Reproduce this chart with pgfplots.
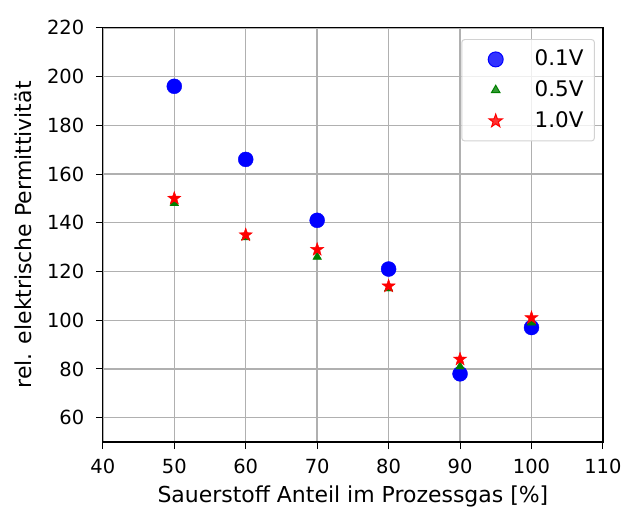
\documentclass[border={8.4pt 0pt 0.5pt 14pt}]{standalone}
\usepackage{pgfplots}
\pgfplotsset{compat=1.18}
\usepackage{fontspec}
\setmainfont{DejaVu Sans}
\definecolor{mplgreen}{RGB}{0,128,0}
\definecolor{gridgray}{RGB}{176,176,176}
\pgfdeclareplotmark{fstar}{%
  \pgfpathmoveto{\pgfpointpolar{90}{\pgfplotmarksize}}%
  \pgfpathlineto{\pgfpointpolar{126}{0.4\pgfplotmarksize}}%
  \pgfpathlineto{\pgfpointpolar{162}{\pgfplotmarksize}}%
  \pgfpathlineto{\pgfpointpolar{198}{0.4\pgfplotmarksize}}%
  \pgfpathlineto{\pgfpointpolar{234}{\pgfplotmarksize}}%
  \pgfpathlineto{\pgfpointpolar{270}{0.4\pgfplotmarksize}}%
  \pgfpathlineto{\pgfpointpolar{306}{\pgfplotmarksize}}%
  \pgfpathlineto{\pgfpointpolar{342}{0.4\pgfplotmarksize}}%
  \pgfpathlineto{\pgfpointpolar{18}{\pgfplotmarksize}}%
  \pgfpathlineto{\pgfpointpolar{54}{0.4\pgfplotmarksize}}%
  \pgfpathclose
  \pgfusepathqfillstroke}
\begin{document}
\fontsize{19.5}{23}\selectfont
\begin{tikzpicture}
\begin{axis}[
  scale only axis,
  width=501pt, height=415pt,
  xmin=40, xmax=110, ymin=50, ymax=220,
  xtick={40,50,...,110}, ytick={60,80,...,220},
  /pgf/number format/assume math mode=true,
  tick label style={font=\fontsize{19.5}{23}\selectfont},
  yticklabel style={xshift=-5pt},
  xticklabel style={yshift=-10pt, inner sep=0pt},
  label style={font=\fontsize{22}{26}\selectfont},
  xlabel={Sauerstoff Anteil im Prozessgas [\%]},
  ylabel={rel. elektrische Permittivität},
  xlabel style={yshift=-5pt},
  ylabel style={yshift=2pt},
  grid=major,
  major grid style={gridgray, line width=1.4pt},
  tick align=outside, tick pos=left,
  major tick length=7pt,
  every tick/.style={black, line width=1pt},
  axis line style={line width=1.3pt},
  legend style={at={(0.984,0.973)}, anchor=north east, draw=gray!35, line width=1pt, rounded corners=3pt, fill=white, fill opacity=0.8, text opacity=1, font=\fontsize{21.5}{25}\selectfont, row sep=8pt, inner xsep=9pt, inner ysep=8.5pt},
  legend cell align=left,
  legend image code/.code={\path[draw=none,fill=none] (0pt,-5pt) rectangle (62pt,5pt); \draw[#1] plot coordinates {(25pt,0pt)};},
]
\addplot[only marks, mark=*, mark size=7.5pt, color=blue] coordinates {
(50,196) (60,166) (70,141) (80,121) (90,78) (100,97)};
\addlegendentry{0.1V}
\addplot[only marks, mark=triangle*, mark size=5pt, color=mplgreen] coordinates {
(50,148) (60,134) (70,126) (80,113) (90,81) (100,99)};
\addlegendentry{0.5V}
\addplot[only marks, mark=fstar, mark size=7pt, color=red] coordinates {
(50,150) (60,135) (70,129) (80,114) (90,84) (100,101)};
\addlegendentry{1.0V}
\end{axis}
\end{tikzpicture}
\end{document}
